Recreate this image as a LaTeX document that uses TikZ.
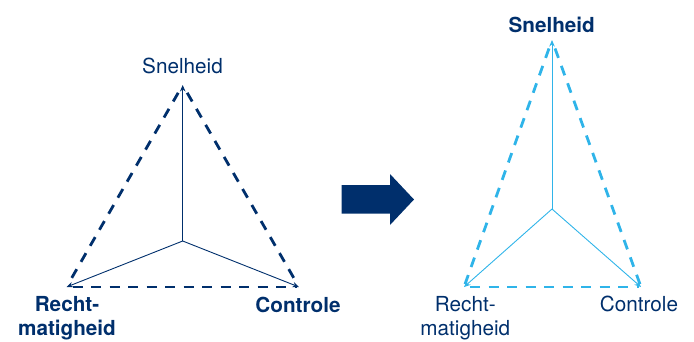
\documentclass[tikz,border=0pt]{standalone}
\usepackage{fontspec}
\setmainfont{TeX Gyre Heros}
\usetikzlibrary{arrows.meta}
\definecolor{dkblue}{HTML}{002F6C}
\definecolor{ltblue}{HTML}{2FB4E9}
\begin{document}
\begin{tikzpicture}[x=1pt,y=-1pt,
  lbl/.style={text=dkblue,font=\fontsize{20.7}{24}\selectfont,inner sep=0pt,align=center},
  spoke/.style={line width=0.9pt,-{Stealth[length=6.5pt,width=5.5pt]}},
  edge/.style={line width=2.8pt,dash pattern=on 10pt off 8.5pt},
  bigarrow/.style={fill=dkblue,draw=none}]
\useasboundingbox (0,0) rectangle (694,341);
% left diagram
\coordinate (lc) at (182.7,241);
\coordinate (lt) at (182.7,85);
\coordinate (ll) at (66.5,287);
\coordinate (lr) at (299,287);
\draw[edge,dkblue,shorten <=9pt,shorten >=3pt] (lt) -- (ll);
\draw[edge,dkblue,shorten <=9pt,shorten >=3pt] (lt) -- (lr);
\draw[edge,dkblue,shorten <=6pt,shorten >=2pt] (ll) -- (lr);
\draw[spoke,dkblue] (lc) -- (lt);
\draw[spoke,dkblue] (lc) -- (ll);
\draw[spoke,dkblue] (lc) -- (lr);
\node[lbl] (lsn) at (182.5,66) {Snelheid};
\node[lbl,font=\fontsize{20.7}{24.5}\selectfont\bfseries,anchor=north] (lre) at (67,296) {Recht-\\matigheid};
\node[lbl,font=\fontsize{20.7}{24}\selectfont\bfseries] (lco) at (298,304.5) {Controle};
% big arrow
\fill[bigarrow] (341.7,185) -- (390,185) -- (390,174) -- (414,199.5) -- (390,225) -- (390,213.5) -- (341.7,213.5) -- cycle;
% right diagram
\coordinate (rc) at (552,209);
\coordinate (rt) at (552,40);
\coordinate (rl) at (464,287);
\coordinate (rr) at (641,287);
\draw[edge,ltblue,shorten <=9pt,shorten >=3pt] (rt) -- (rl);
\draw[edge,ltblue,shorten <=9pt,shorten >=3pt] (rt) -- (rr);
\draw[edge,ltblue,shorten <=6pt,shorten >=2pt] (rl) -- (rr);
\draw[spoke,ltblue] (rc) -- (rt);
\draw[spoke,ltblue] (rc) -- (rl);
\draw[spoke,ltblue] (rc) -- (rr);
\node[lbl,font=\fontsize{20.7}{24}\selectfont\bfseries] (rsn) at (551.7,25) {Snelheid};
\node[lbl,anchor=north] (rre) at (465.3,296) {Recht-\\matigheid};
\node[lbl] (rco) at (639,304) {Controle};
\end{tikzpicture}
\end{document}
